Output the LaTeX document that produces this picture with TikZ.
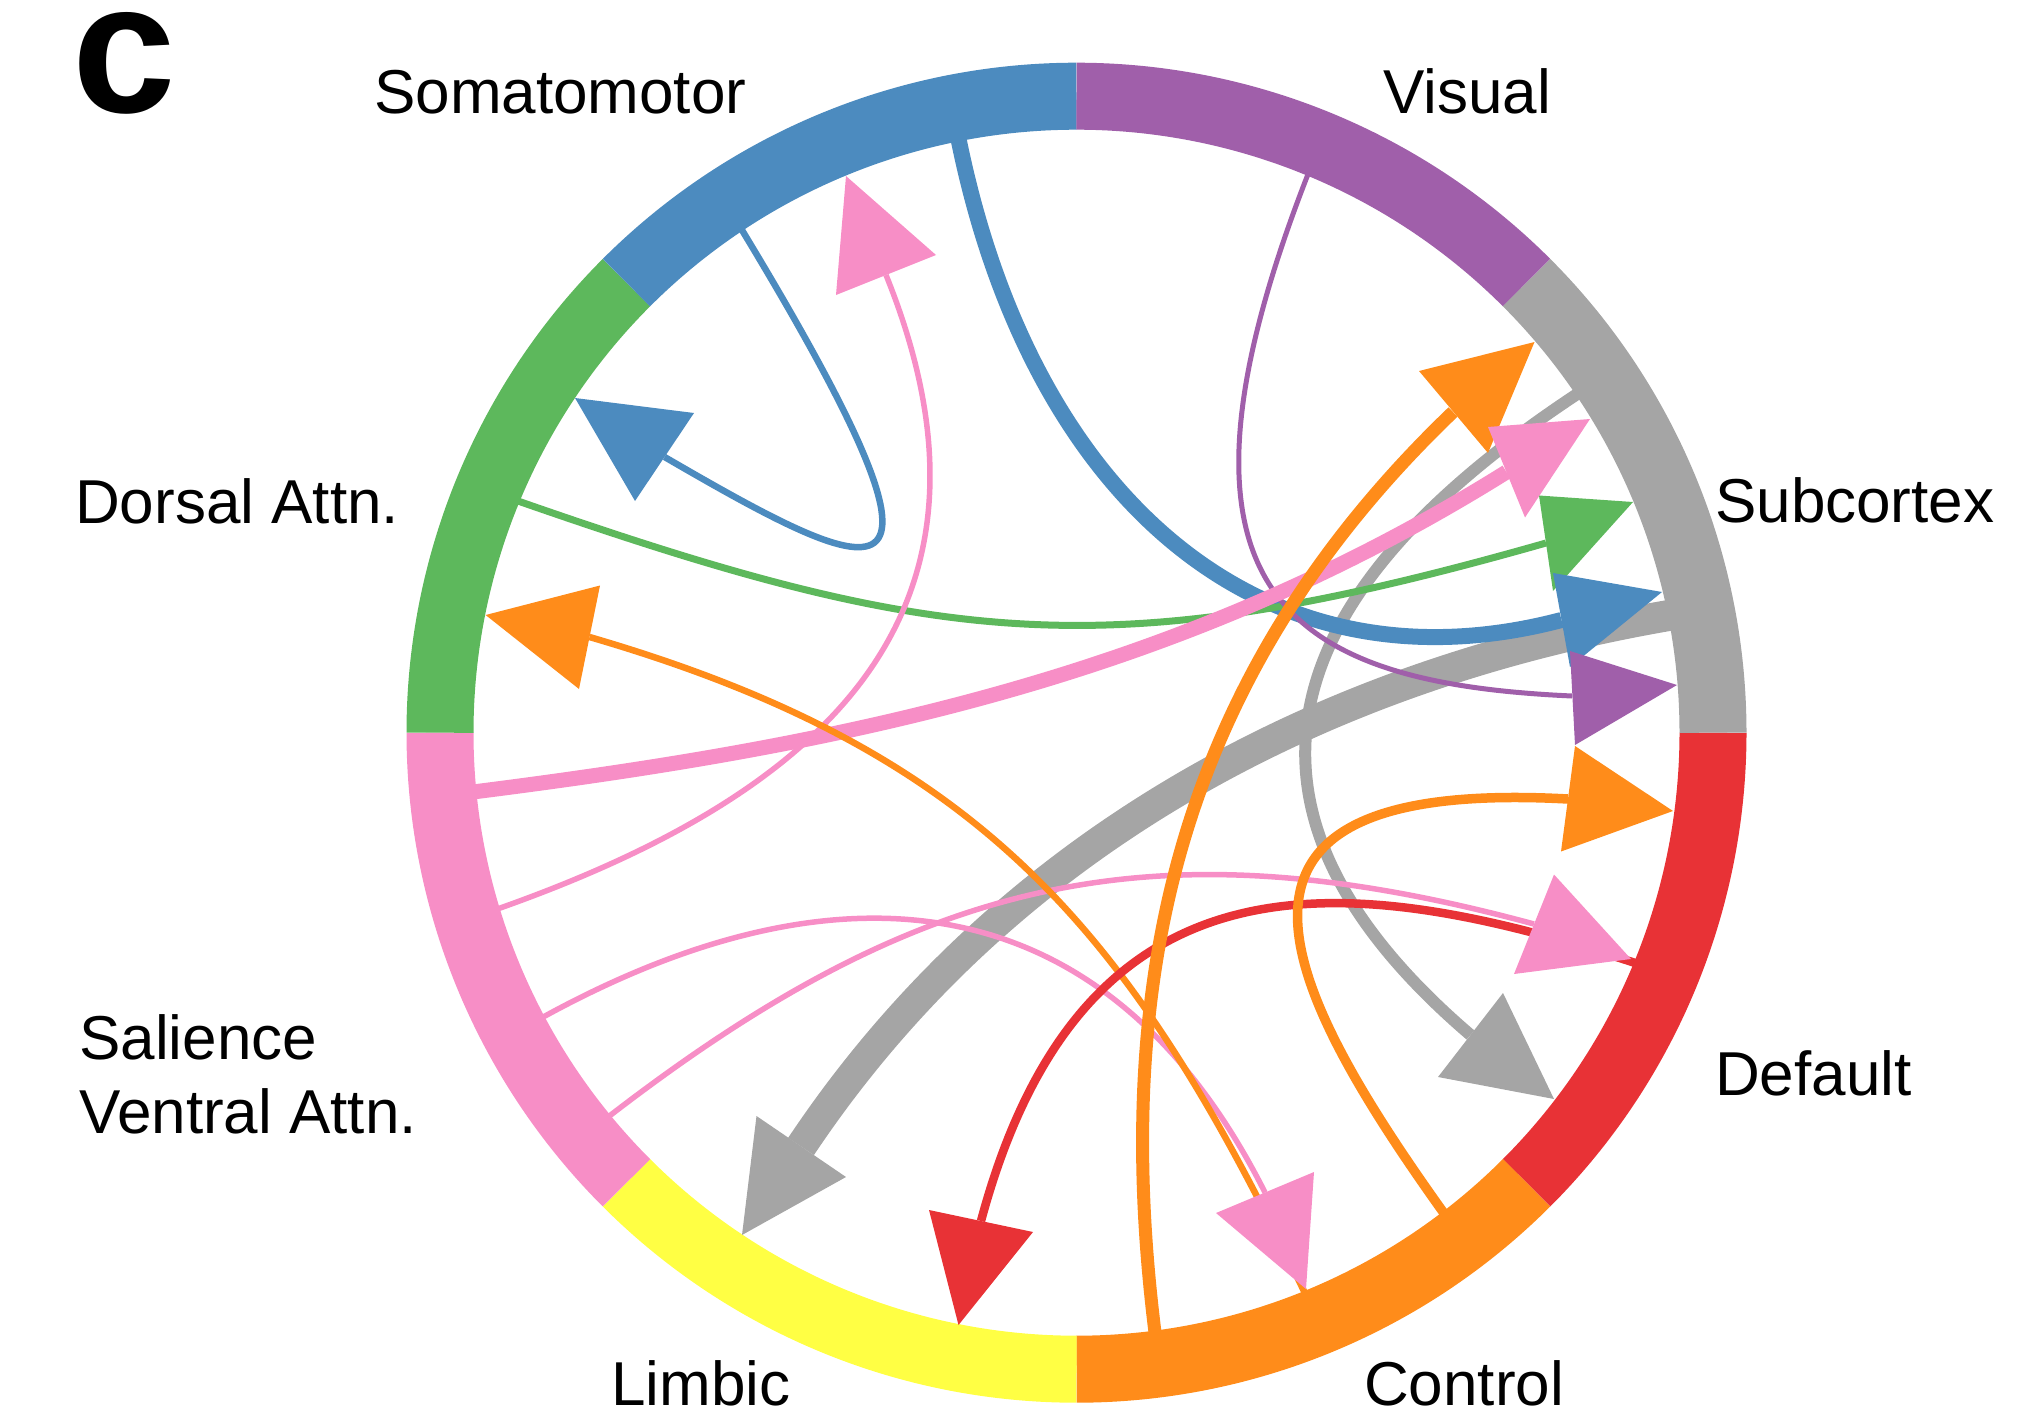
\documentclass[tikz,border=0pt]{standalone}
\usepackage{fontspec}
\setmainfont{Liberation Sans}
\definecolor{cblue}{HTML}{4C8BBF}
\definecolor{cpurple}{HTML}{A05FAA}
\definecolor{cgray}{HTML}{A5A5A5}
\definecolor{cred}{HTML}{E83236}
\definecolor{corange}{HTML}{FF8C1A}
\definecolor{cyellow}{HTML}{FFFF44}
\definecolor{cpink}{HTML}{F78EC6}
\definecolor{cgreen}{HTML}{5DB85C}
\begin{document}
\begin{tikzpicture}[x=1pt,y=-1pt,
  chord/.style={line cap=butt, line join=round},
  seg/.style={line width=67pt, line cap=butt},
  lbl/.style={anchor=base west, inner sep=0pt, font=\fontsize{62}{74}\selectfont}]
\useasboundingbox (0,0) rectangle (2030,1418);
\coordinate (C) at (1076.5,732.7);

% ---------- chords ----------
% gray thick: Subcortex -> Limbic
\coordinate (s9) at (1679.9,613.6); \coordinate (e9) at (801,1146.5);
\draw[cgray, line width=31pt, chord] (s9) .. controls (1323.4,672.8) and (1004.3,841.7) .. (e9);
% gray thin: Subcortex -> Default
\coordinate (s8) at (1583.5,389.9); \coordinate (e8) at (1470.5,1035);
\draw[cgray, line width=12pt, chord] (s8) .. controls (1311.6,567.6) and (1177.1,784.1) .. (e8);
% blue thick: Somatomotor -> Subcortex
\coordinate (s3) at (957.2,132.4); \coordinate (e3) at (1561.5,620);
\draw[cblue, line width=16pt, chord] (s3) .. controls (1028,492.4) and (1257,700) .. (e3);
% green: Dorsal -> Subcortex
\coordinate (s5) at (511.1,498.6); \coordinate (e5) at (1546,543);
\draw[cgreen, line width=7pt, chord] (s5) .. controls (940.6,648.8) and (1106.9,668.1) .. (e5);
% purple: Visual -> Subcortex
\coordinate (s4) at (1310.7,167.3); \coordinate (e4) at (1572,696);
\draw[cpurple, line width=5pt, chord] (s4) .. controls (1142.1,594.4) and (1286.3,683.1) .. (e4);
% pink thick: Salience -> Subcortex
\coordinate (s6) at (467.4,792.7); \coordinate (e6) at (1506.5,472);
\draw[cpink, line width=15pt, chord] (s6) .. controls (835.1,746.4) and (1173.6,680.1) .. (e6);
% pink thin: Salience -> Somatomotor
\coordinate (s2) at (491.1,911.2); \coordinate (e2) at (886,275);
\draw[cpink, line width=5.5pt, chord] (s2) .. controls (831.7,792.5) and (1021.3,609.4) .. (e2);
% pink thin: Salience -> Default
\coordinate (s11) at (603.3,1120.7); \coordinate (e11) at (1534,924);
\draw[cpink, line width=5.5pt, chord] (s11) .. controls (917.8,876.7) and (1151.1,820.4) .. (e11);
% pink thin: Salience -> Control
\coordinate (s13) at (536.5,1020.7); \coordinate (e13) at (1265,1192.5);
\draw[cpink, line width=5.5pt, chord] (s13) .. controls (829.6,857.4) and (1103.2,871.5) .. (e13);
% orange thin: Control -> Dorsal
\coordinate (s14) at (1307.8,1299.2); \coordinate (e14) at (589.5,637);
\draw[corange, line width=6.5pt, chord] (s14) .. controls (1132.6,930.5) and (984.3,752.1) .. (e14);
% red: Default -> Limbic
\coordinate (s12) at (1642.5,965.4); \coordinate (e12) at (981,1221);
\draw[cred, line width=8.5pt, chord] (s12) .. controls (1337.1,864.4) and (1081.7,846.8) .. (e12);
% orange: Control -> Default
\coordinate (s10) at (1448.1,1219); \coordinate (e10) at (1568,799);
\draw[corange, line width=9.5pt, chord] (s10) .. controls (1275,978) and (1180,778) .. (e10);
% orange: Control -> Subcortex
\coordinate (s7) at (1155.9,1339.6); \coordinate (e7) at (1453,412);
\draw[corange, line width=13pt, chord] (s7) .. controls (1112.1,997.3) and (1167.6,685.5) .. (e7);
% blue thin loop: Somatomotor -> Dorsal
\coordinate (s1) at (737.7,223); \coordinate (e1) at (664.6,457);
\draw[cblue, line width=6.5pt, chord] (s1) .. controls (985,630) and (885,585) .. (e1);

% ---------- ring ----------
\draw[seg, cred]    (C) ++(0:636.5)   arc[start angle=0,   end angle=45,  radius=636.5];
\draw[seg, corange] (C) ++(45:636.5)  arc[start angle=45,  end angle=90,  radius=636.5];
\draw[seg, cyellow] (C) ++(90:636.5)  arc[start angle=90,  end angle=135, radius=636.5];
\draw[seg, cpink]   (C) ++(135:636.5) arc[start angle=135, end angle=180, radius=636.5];
\draw[seg, cgreen]  (C) ++(180:636.5) arc[start angle=180, end angle=225, radius=636.5];
\draw[seg, cblue]   (C) ++(225:636.5) arc[start angle=225, end angle=270, radius=636.5];
\draw[seg, cpurple] (C) ++(270:636.5) arc[start angle=270, end angle=315, radius=636.5];
\draw[seg, cgray]   (C) ++(315:636.5) arc[start angle=315, end angle=360, radius=636.5];

% ---------- arrowheads ----------
\fill[cblue]   (575,398) -- (694,413) -- (635,501) -- cycle;
\fill[cpink]   (846,176) -- (936,255) -- (836,295) -- cycle;
\fill[corange] (1534.5,342) -- (1419,371) -- (1488,453) -- cycle;
\fill[cpink]   (1590,419) -- (1488,427) -- (1525,517.5) -- cycle;
\fill[cgreen]  (1633,502) -- (1539,495.5) -- (1553,591) -- cycle;
\fill[cblue]   (1662,592) -- (1553,573) -- (1570,667) -- cycle;
\fill[cpurple] (1677,685) -- (1570,651) -- (1575,745) -- cycle;
\fill[corange] (1673,811) -- (1575,746) -- (1561,851.5) -- cycle;
\fill[cpink]   (1631,959) -- (1554,874.5) -- (1514,974) -- cycle;
\fill[cgray]   (1554,1099) -- (1503,993) -- (1438,1077) -- cycle;
\fill[cpink]   (1306,1289) -- (1216,1213) -- (1314,1172) -- cycle;
\fill[cred]    (958.5,1325) -- (929,1210) -- (1033,1232) -- cycle;
\fill[cgray]   (742,1235) -- (756.5,1116) -- (846,1177) -- cycle;
\fill[corange] (485.6,615) -- (600,585.5) -- (579,689) -- cycle;

% ---------- labels ----------
\node[anchor=base west, inner sep=0pt, font=\fontsize{186}{186}\selectfont\bfseries] (panel) at (72,113) {c};
\node[lbl] (lsom) at (374,114) {Somatomotor};
\node[lbl] (lvis) at (1383,114) {Visual};
\node[lbl] (ldor) at (75,523) {Dorsal Attn.};
\node[lbl] (lsub) at (1715,522) {Subcortex};
\node[lbl] (lsal) at (79,1059) {Salience};
\node[lbl] (lven) at (79,1133) {Ventral Attn.};
\node[lbl] (ldef) at (1715,1095) {Default};
\node[lbl] (llim) at (611,1405) {Limbic};
\node[lbl] (lcon) at (1364,1405) {Control};
\end{tikzpicture}
\end{document}
